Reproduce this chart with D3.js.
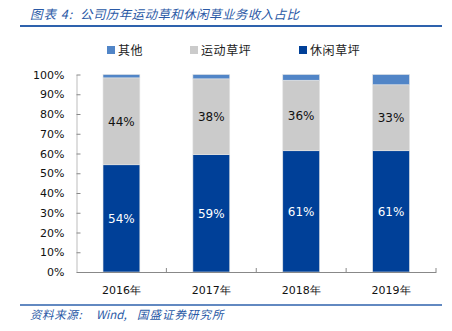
<!DOCTYPE html>
<html><head><meta charset="utf-8">
<script src="https://cdn.jsdelivr.net/npm/d3@7"></script>
<style>body{margin:0;background:#fff}svg{display:block}</style>
</head><body>
<script>
const categories = ["2016年","2017年","2018年","2019年"];
const leisure = [54.3, 59.4, 61.4, 61.4];   // 休闲草坪
const sports  = [44.0, 38.4, 35.7, 33.4];   // 运动草坪
const other   = [1.7, 2.2, 2.9, 5.2];       // 其他
const yTicks = [0,10,20,30,40,50,60,70,80,90,100];
const seriesNames = ["休闲草坪","运动草坪","其他"];
const colors = {"休闲草坪":"#004098","运动草坪":"#cbcbcb","其他":"#5185c7"};

(function(){
const W=452,H=331;
const svg=d3.select("body").append("svg").attr("width",W).attr("height",H);
const cjk='"Noto Sans CJK SC","DejaVu Sans",sans-serif';
const num='"DejaVu Sans",sans-serif';
const blue="#2a59a6";

const t=svg.append("text").attr("y",19).attr("font-family",cjk).attr("font-size",12.5)
  .attr("font-style","italic").attr("fill",blue);
t.append("tspan").attr("x",30).attr("letter-spacing",1).text("图表 4:");
t.append("tspan").attr("x",80).attr("letter-spacing",0.4).text("公司历年运动草和休闲草业务收入占比");
svg.append("line").attr("x1",20).attr("x2",442).attr("y1",26).attr("y2",26).attr("stroke","#2e62ad").attr("stroke-width",2);

const legend=[{n:"其他",x:107},{n:"运动草坪",x:190},{n:"休闲草坪",x:299}];
legend.forEach(l=>{
  svg.append("rect").attr("x",l.x).attr("y",46).attr("width",8).attr("height",8).attr("fill",colors[l.n]);
  svg.append("text").attr("x",l.x+11).attr("y",54.5).attr("font-family",cjk).attr("font-size",12)
    .attr("letter-spacing",0.6).attr("fill","#222").text(l.n);
});

const pl=76.5,pr=436,pt=74.5,pb=272;
const x=d3.scaleBand().domain(categories).range([pl,pr]).paddingInner(0.59).paddingOuter(0.295);
const xb=d3.scaleBand().domain(categories).range([pl,pr]);
const y=d3.scaleLinear().domain([0,100]).range([pb,pt]);

const data=categories.map((c,i)=>({cat:c,"休闲草坪":leisure[i],"运动草坪":sports[i],"其他":other[i]}));
const stack=d3.stack().keys(seriesNames)(data);

svg.append("g").selectAll("g").data(stack).join("g").attr("fill",d=>colors[d.key])
 .selectAll("rect").data(d=>d).join("rect")
 .attr("x",d=>x(d.data.cat)).attr("width",x.bandwidth())
 .attr("y",d=>y(d[1])).attr("height",d=>y(d[0])-y(d[1]))
 .attr("stroke","#e4e4e4").attr("stroke-width",0.6);

stack.slice(0,2).forEach(s=>{
  svg.append("g").selectAll("text").data(s).join("text")
   .attr("x",d=>x(d.data.cat)+x.bandwidth()/2).attr("y",d=>(y(d[0])+y(d[1]))/2+4.5)
   .attr("text-anchor","middle").attr("font-family",num).attr("font-size",12)
   .attr("fill",s.key==="休闲草坪"?"#fff":"#111")
   .text(d=>Math.round(d[1]-d[0])+"%");
});

const ya=svg.append("g").attr("transform",`translate(${pl},0)`)
 .call(d3.axisLeft(y).tickValues(yTicks).tickFormat(d=>d+"%").tickSizeInner(-4).tickSizeOuter(0).tickPadding(12));
ya.select(".domain").attr("stroke","#bdbdbd");
ya.selectAll(".tick line").attr("stroke","#888");
ya.selectAll("text").attr("font-family",num).attr("font-size",11).attr("fill","#111");

const xa=svg.append("g").attr("transform",`translate(0,${pb})`)
 .call(d3.axisBottom(xb).tickSize(0).tickPadding(14));
xa.select(".domain").attr("stroke","#888");
xa.selectAll("text").attr("font-family",num).attr("font-size",11).attr("fill","#111");
svg.append("g").selectAll("line").data(categories.slice(1).concat(["__end"])).join("line")
 .attr("x1",d=>d==="__end"?pr:xb(d)).attr("x2",d=>d==="__end"?pr:xb(d))
 .attr("y1",pb).attr("y2",pb-4).attr("stroke","#888");

svg.append("line").attr("x1",20).attr("x2",442).attr("y1",305).attr("y2",305).attr("stroke","#2e62ad").attr("stroke-width",1.5);
const s=svg.append("text").attr("y",318.5).attr("font-family",cjk).attr("font-size",11.5)
  .attr("font-style","italic").attr("fill",blue);
s.append("tspan").attr("x",30).attr("letter-spacing",0.6).text("资料来源:");
s.append("tspan").attr("x",96).text("Wind,");
s.append("tspan").attr("x",137).attr("letter-spacing",1).text("国盛证券研究所");
})();
</script>
</body></html>
